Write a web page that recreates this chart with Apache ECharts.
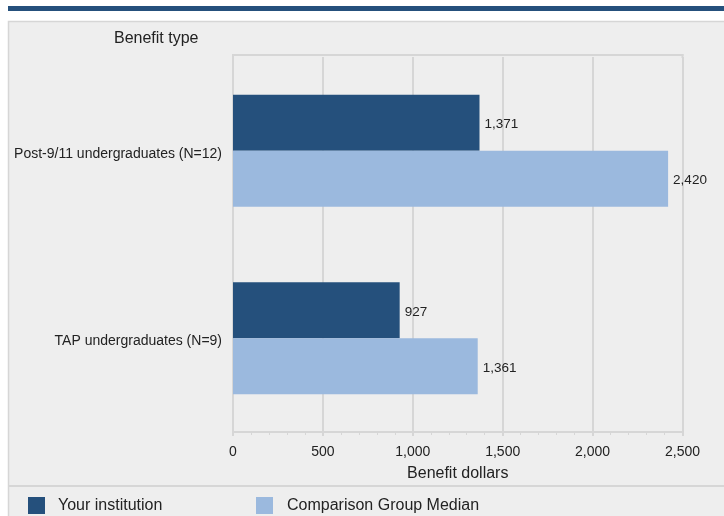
<!DOCTYPE html>
<html>
<head>
<meta charset="utf-8">
<script src="https://cdn.jsdelivr.net/npm/echarts@6/dist/echarts.min.js"></script>
<style>
html,body{margin:0;padding:0;background:#fff;}
#c{width:724px;height:516px;}
</style>
</head>
<body>
<div id="c"></div>
<script>
const categories = ["Post-9/11 undergraduates (N=12)", "TAP undergraduates (N=9)"];
const yourInstitution = [1371, 927];
const comparisonMedian = [2420, 1361];
const seriesNames = ["Your institution", "Comparison Group Median"];
const xTicks = {min: 0, max: 2500, interval: 500};

const fmt = v => Number(v).toLocaleString('en-US');
const FONT = '"Liberation Sans", Arial, sans-serif';
const chart = echarts.init(document.getElementById('c'), null, {renderer: 'canvas'});
chart.setOption({
  animation: false,
  backgroundColor: '#ffffff',
  textStyle: {fontFamily: FONT},
  graphic: [
    {type: 'rect', z: -10, shape: {x: 8, y: 6, width: 720, height: 5}, style: {fill: '#25507c'}},
    {type: 'rect', z: -10, shape: {x: 8.5, y: 21.5, width: 730, height: 520}, style: {fill: '#eeeeee', stroke: '#d6d6d6', lineWidth: 1.5}},
    {type: 'line', z: -9, shape: {x1: 8, y1: 486, x2: 724, y2: 486}, style: {stroke: '#d6d6d6', lineWidth: 2}},
    {type: 'line', z: -9, shape: {x1: 232, y1: 55, x2: 683.5, y2: 55}, style: {stroke: '#d6d6d6', lineWidth: 2}},
    {type: 'line', z: -9, shape: {x1: 682.5, y1: 54, x2: 682.5, y2: 58}, style: {stroke: '#d6d6d6', lineWidth: 2}},
    {type: 'line', z: -9, shape: {x1: 233, y1: 54, x2: 233, y2: 58}, style: {stroke: '#d6d6d6', lineWidth: 2}},
    {type: 'text', left: 114, top: 31, style: {text: 'Benefit type', font: '16px ' + FONT, fill: '#222'}}
  ],
  grid: {left: 233, right: 41.5, top: 57, bottom: 84, show: false},
  legend: [
    {left: 28, top: 497, padding: 0, itemWidth: 17, itemHeight: 17, icon: 'rect', data: [seriesNames[0]],
     textStyle: {fontSize: 16, color: '#222', padding: [0, 0, 0, 8], fontFamily: FONT}},
    {left: 256, top: 497, padding: 0, itemWidth: 17, itemHeight: 17, icon: 'rect', data: [seriesNames[1]],
     textStyle: {fontSize: 16, color: '#222', padding: [0, 0, 0, 9], fontFamily: FONT}}
  ],
  xAxis: {
    type: 'value', min: xTicks.min, max: xTicks.max, interval: xTicks.interval,
    name: 'Benefit dollars', nameLocation: 'middle', nameGap: 34,
    nameTextStyle: {fontSize: 16, color: '#222'},
    axisLine: {show: true, lineStyle: {color: '#d6d6d6', width: 2}},
    axisTick: {show: true, length: 4, lineStyle: {color: '#d6d6d6', width: 2}},
    minorTick: {show: true, splitNumber: 5, length: 3, lineStyle: {color: '#d6d6d6', width: 1}},
    splitLine: {show: true, lineStyle: {color: '#d6d6d6', width: 2}},
    axisLabel: {fontSize: 14, color: '#222', margin: 13, formatter: fmt}
  },
  yAxis: {
    type: 'category', data: categories, inverse: true,
    axisLine: {show: true, lineStyle: {color: '#d6d6d6', width: 2}},
    axisTick: {show: false},
    axisLabel: {fontSize: 14, color: '#222', margin: 11,
      formatter: v => '{a|' + v + '}',
      rich: {a: {fontSize: 14, color: '#222', fontFamily: FONT, padding: [6, 0, 0, 0]}}}
  },
  series: [
    {name: seriesNames[0], type: 'bar', data: yourInstitution, barWidth: 56, barGap: '0%',
     itemStyle: {color: '#25507c'},
     label: {show: true, position: 'right', distance: 5, offset: [0, 2], fontSize: 13.5, color: '#222', formatter: p => fmt(p.value)}},
    {name: seriesNames[1], type: 'bar', data: comparisonMedian, barWidth: 56, barGap: '0%',
     itemStyle: {color: '#9bb9de'},
     label: {show: true, position: 'right', distance: 5, offset: [0, 2], fontSize: 13.5, color: '#222', formatter: p => fmt(p.value)}}
  ]
});
</script>
</body>
</html>
